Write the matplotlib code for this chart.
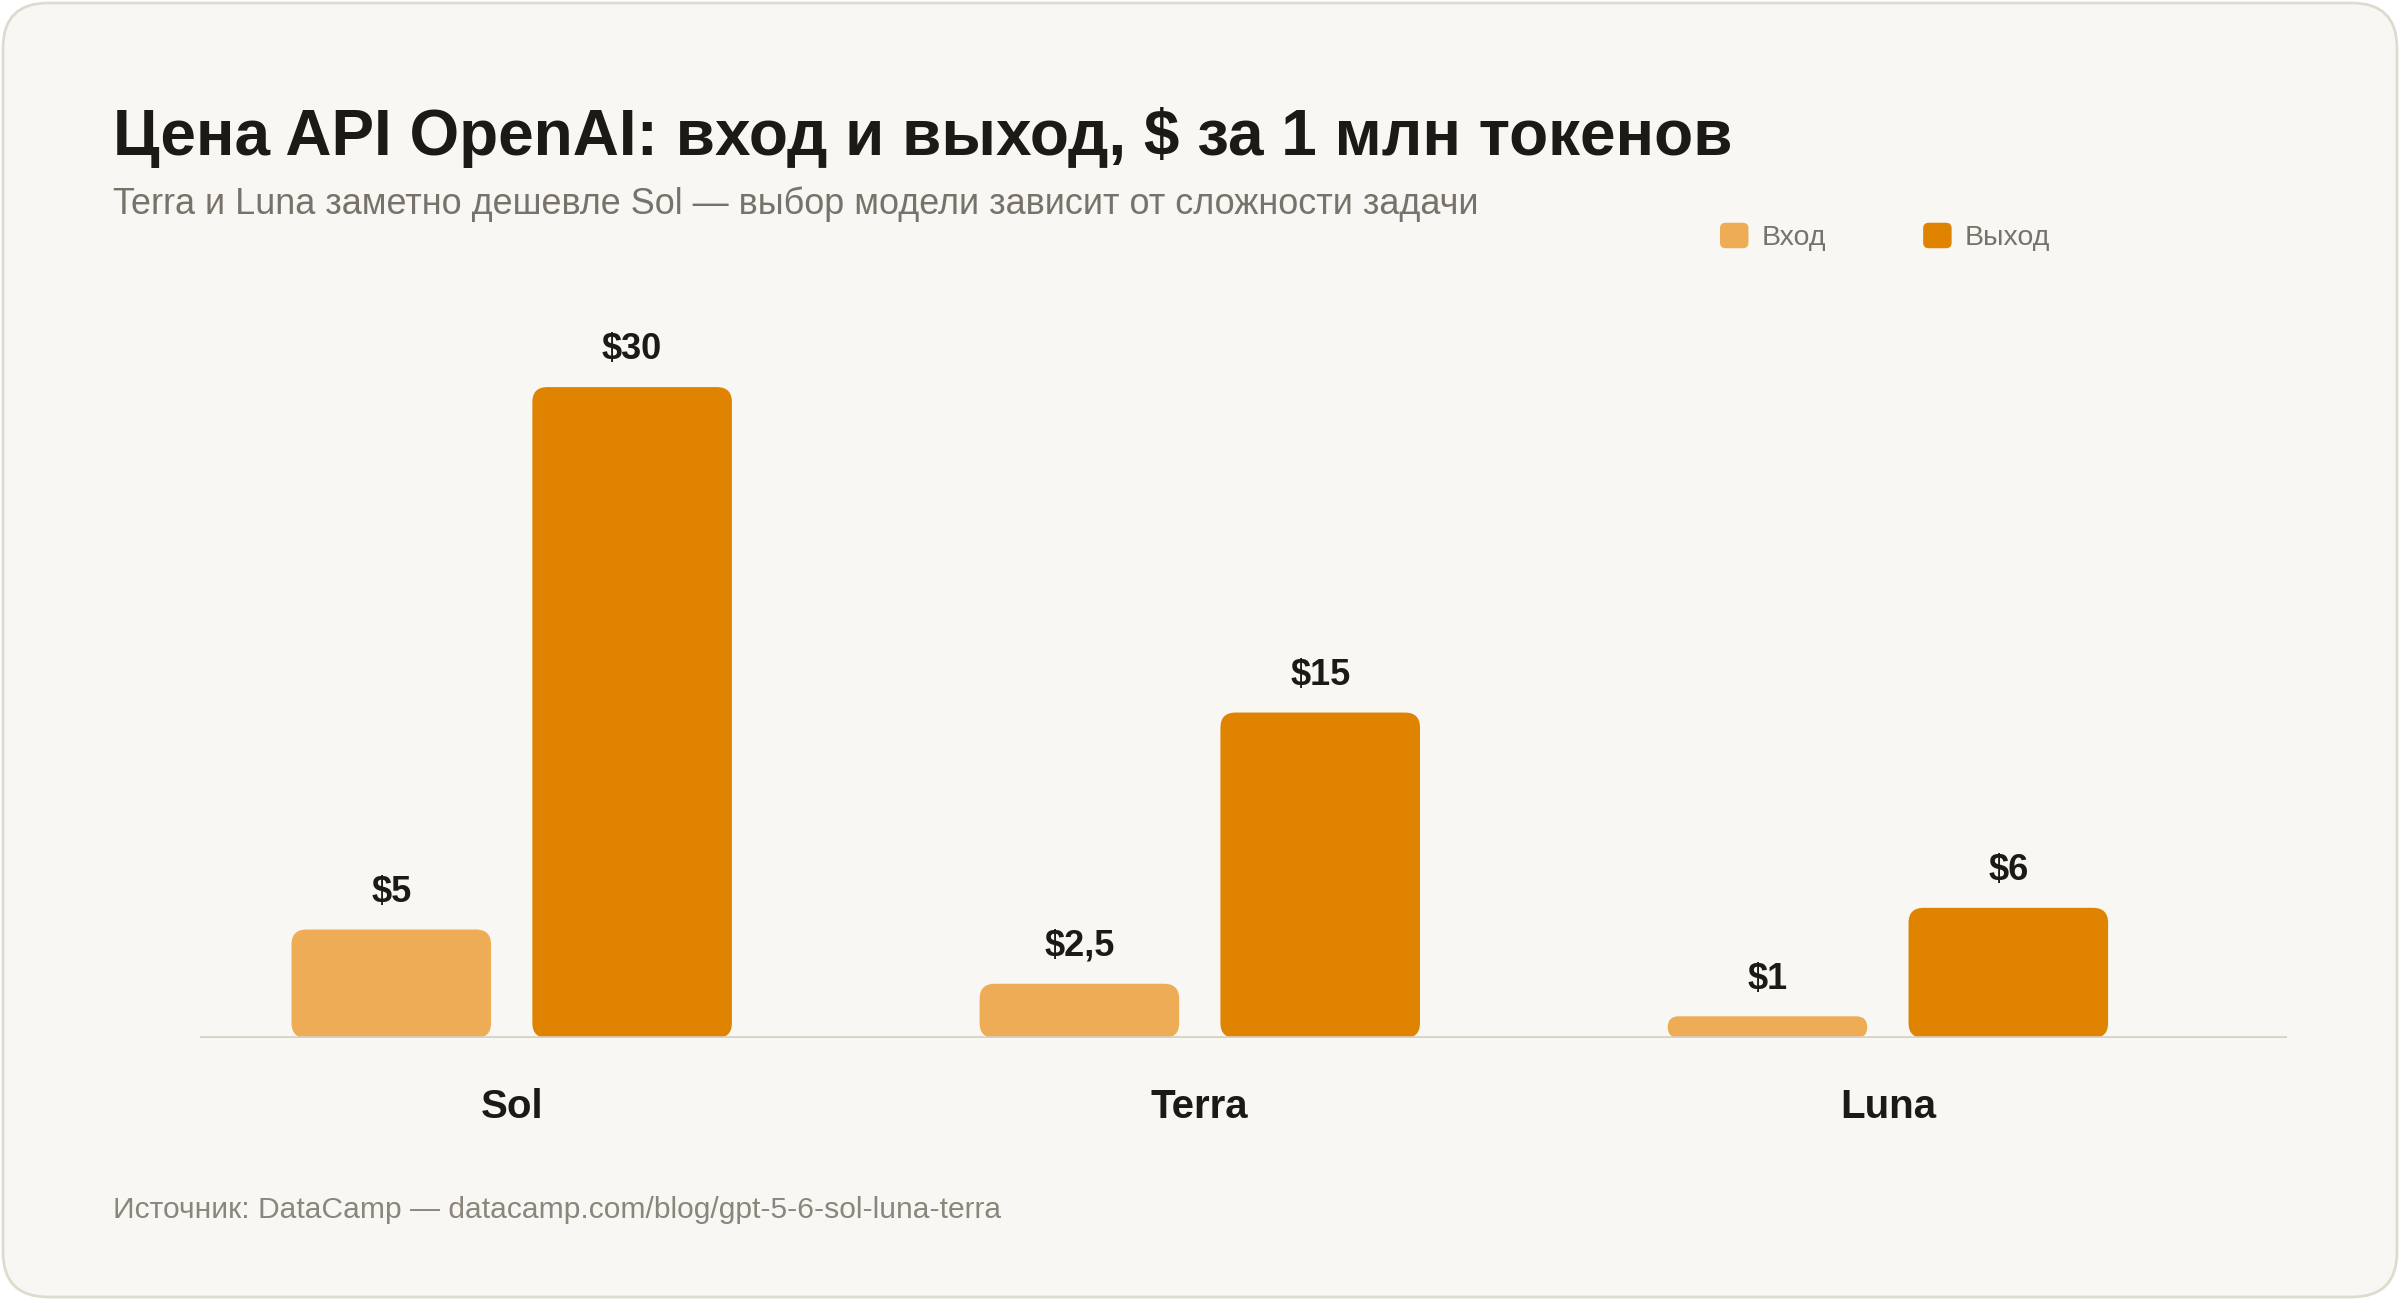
import matplotlib
matplotlib.use("Agg")
import matplotlib.pyplot as plt
import numpy as np
from matplotlib.patches import FancyBboxPatch, Patch
from matplotlib.legend_handler import HandlerPatch

plt.rcParams['font.family'] = ['Liberation Sans', 'DejaVu Sans']

models = ["Sol", "Terra", "Luna"]
price_in = [5, 2.5, 1]
price_out = [30, 15, 6]
series_names = ["Вход", "Выход"]

title = "Цена API OpenAI: вход и выход, $ за 1 млн токенов"
subtitle = "Terra и Luna заметно дешевле Sol — выбор модели зависит от сложности задачи"
source = "Источник: DataCamp — datacamp.com/blog/gpt-5-6-sol-luna-terra"

c_in = "#EFAC57"
c_out = "#E08300"
dark = "#1C1A17"
grey = "#77736A"
bg = "#F9F7F3"


def fmt(v):
    s = ("%g" % v).replace(".", ",")
    return "$" + s


class RoundHandler(HandlerPatch):
    def create_artists(self, legend, orig_handle, xdescent, ydescent,
                       width, height, fontsize, trans):
        p = FancyBboxPatch((-xdescent, -ydescent), width, height,
                           boxstyle="round,pad=0,rounding_size=4",
                           fc=orig_handle.get_facecolor(), ec="none",
                           transform=trans)
        return [p]


fig = plt.figure(figsize=(24, 13), dpi=100)
fig.patch.set_facecolor("white")

card = FancyBboxPatch((0.03, 0.03), 23.94, 12.94,
                      boxstyle="round,pad=0,rounding_size=0.45",
                      fc=bg, ec="#DEDBCF", lw=2,
                      transform=fig.dpi_scale_trans, zorder=-1)
fig.patches.append(card)

ax = fig.add_axes([200 / 2400, 262 / 1300, 2087 / 2400, 716 / 1300])
ax.set_facecolor("none")
ax.set_xlim(-0.453, 2.58)
ax.set_ylim(0, 33)
for s in ax.spines.values():
    s.set_visible(False)
ax.set_yticks([])

x = np.arange(len(models))
w = 0.29
off = 0.175
b1 = ax.bar(x - off, price_in, w, color=c_in)
b2 = ax.bar(x + off, price_out, w, color=c_out)

# replace plain bars with rounded ones
bb = ax.get_window_extent()
pxx = bb.width / (ax.get_xlim()[1] - ax.get_xlim()[0])
pxy = bb.height / (ax.get_ylim()[1] - ax.get_ylim()[0])
for bars in (b1, b2):
    for r in bars:
        r.set_visible(False)
        hpx = r.get_height() * pxy
        rad = min(15, hpx / 2)
        p = FancyBboxPatch((r.get_x(), 0), r.get_width(), r.get_height(),
                           boxstyle="round,pad=0,rounding_size=%f" % (rad / pxx),
                           mutation_aspect=pxx / pxy,
                           fc=r.get_facecolor(), ec="none", zorder=3)
        ax.add_patch(p)
        ax.annotate(fmt(r.get_height()), (r.get_x() + r.get_width() / 2, r.get_height()),
                    xytext=(0, 20), textcoords="offset points", ha="center",
                    va="baseline", fontsize=26, fontweight="bold", color=dark)

ax.axhline(0, color="#D5D2C3", lw=2.6, zorder=4)

ax.set_xticks(x, models)
ax.tick_params(axis="x", length=0, pad=36, labelsize=29, labelcolor=dark)
for t in ax.get_xticklabels():
    t.set_fontweight("bold")

fig.text(113 / 2400, 1 - 155 / 1300, title, fontsize=46, fontweight="bold",
         color=dark, va="baseline")
fig.text(113 / 2400, 1 - 214 / 1300, subtitle, fontsize=25.9, color=grey,
         va="baseline")
fig.text(113 / 2400, 1 - 1218 / 1300, source, fontsize=21.6, color="#8A867C",
         va="baseline")

handles = [Patch(facecolor=c_in, label=series_names[0]),
           Patch(facecolor=c_out, label=series_names[1])]
leg = fig.legend(handles=handles, loc="center left",
                 bbox_to_anchor=(1720 / 2400, 1 - 237 / 1300), ncol=2,
                 frameon=False, fontsize=20.5, handlelength=1.0, handleheight=1.0,
                 handletextpad=0.47, columnspacing=3.4, borderpad=0,
                 borderaxespad=0, labelcolor=grey,
                 handler_map={Patch: RoundHandler()})

fig.savefig("out.png", dpi=100, facecolor=fig.get_facecolor())
